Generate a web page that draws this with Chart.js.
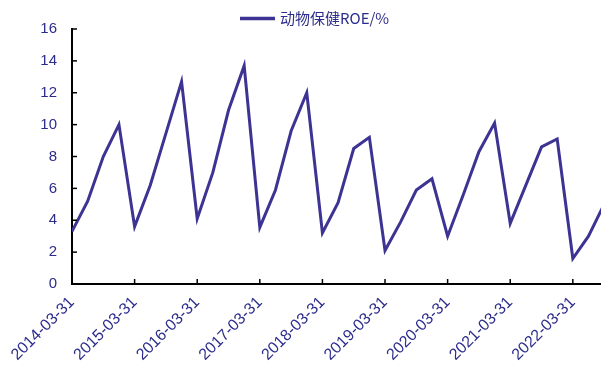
<!DOCTYPE html>
<html>
<head>
<meta charset="utf-8">
<script src="https://cdn.jsdelivr.net/npm/chart.js@4/dist/chart.umd.min.js"></script>
<style>
  html, body { margin: 0; padding: 0; background: #fff; overflow: hidden; }
  canvas { display: block; }
</style>
</head>
<body>
<canvas id="roeChart" width="601" height="367"></canvas>
<script>
// Quarterly reporting dates
const quarters = [
  '2014-03-31','2014-06-30','2014-09-30','2014-12-31',
  '2015-03-31','2015-06-30','2015-09-30','2015-12-31',
  '2016-03-31','2016-06-30','2016-09-30','2016-12-31',
  '2017-03-31','2017-06-30','2017-09-30','2017-12-31',
  '2018-03-31','2018-06-30','2018-09-30','2018-12-31',
  '2019-03-31','2019-06-30','2019-09-30','2019-12-31',
  '2020-03-31','2020-06-30','2020-09-30','2020-12-31',
  '2021-03-31','2021-06-30','2021-09-30','2021-12-31',
  '2022-03-31','2022-06-30','2022-09-30'
];

// Animal health sector ROE (%), cumulative within each year
const roe = [
  3.3, 5.2, 8.0, 10.0,
  3.6, 6.2, 9.45, 12.7,
  4.1, 7.0, 10.9, 13.7,
  3.55, 5.9, 9.6, 12.0,
  3.2, 5.1, 8.5, 9.2,
  2.1, 3.9, 5.9, 6.6,
  3.0, 5.6, 8.3, 10.1,
  3.8, 6.2, 8.6, 9.1,
  1.6, 3.0, 5.0
];

// Dates shown on the x axis
const tickLabels = [
  '2014-03-31','2015-03-31','2016-03-31','2017-03-31','2018-03-31',
  '2019-03-31','2020-03-31','2021-03-31','2022-03-31'
];

const seriesName = '动物保健ROE/%';
const lineColor = '#3d3393';
const textColor = '#2c2c8c';
const yFont = { family: "Arial, 'Liberation Sans', sans-serif", size: 15 };
const xFont = { family: "Arial, 'Liberation Sans', sans-serif", size: 16 };

// Short tick marks pointing into the plot, plus the legend line and caption
const axisDecor = {
  id: 'axisDecor',
  afterDraw(chart) {
    const { ctx, chartArea, scales: { x, y } } = chart;
    ctx.save();
    ctx.strokeStyle = '#000';
    ctx.lineWidth = 1.5;
    y.ticks.forEach(t => {
      const py = y.getPixelForValue(t.value);
      ctx.beginPath();
      ctx.moveTo(chartArea.left, py);
      ctx.lineTo(chartArea.left + 5, py);
      ctx.stroke();
    });
    x.ticks.forEach(t => {
      const px = x.getPixelForValue(t.value);
      ctx.beginPath();
      ctx.moveTo(px, chartArea.bottom);
      ctx.lineTo(px, chartArea.bottom - 5);
      ctx.stroke();
    });

    // legend
    const ly = 18.5;
    ctx.strokeStyle = lineColor;
    ctx.lineWidth = 3.5;
    ctx.beginPath();
    ctx.moveTo(240, ly);
    ctx.lineTo(275, ly);
    ctx.stroke();
    ctx.fillStyle = textColor;
    ctx.font = "15px 'Noto Sans CJK SC', sans-serif";
    ctx.textBaseline = 'middle';
    ctx.textAlign = 'left';
    ctx.fillText(seriesName, 280, ly);
    ctx.restore();
  }
};

new Chart(document.getElementById('roeChart'), {
  type: 'line',
  data: {
    datasets: [{
      label: seriesName,
      data: roe.map((v, i) => ({ x: i, y: v })),
      borderColor: lineColor,
      borderWidth: 3,
      pointRadius: 0,
      tension: 0,
      fill: false
    }]
  },
  options: {
    responsive: false,
    animation: false,
    devicePixelRatio: 1,
    layout: { padding: { top: 29, left: 0, right: 0, bottom: 0 } },
    plugins: {
      legend: { display: false },
      tooltip: { enabled: false }
    },
    scales: {
      x: {
        type: 'linear',
        min: 0,
        max: 33.8,
        afterBuildTicks(scale) {
          scale.ticks = tickLabels.map(l => ({ value: quarters.indexOf(l) }));
        },
        afterFit(scale) { scale.height = 83; },
        ticks: {
          autoSkip: false,
          maxRotation: 45,
          minRotation: 45,
          padding: 9,
          color: textColor,
          font: xFont,
          callback: v => quarters[v]
        },
        grid: { display: false, drawTicks: false },
        border: { display: true, color: '#000', width: 2 }
      },
      y: {
        min: 0,
        max: 16,
        afterFit(scale) { scale.width = 72; },
        ticks: {
          stepSize: 2,
          padding: 15,
          color: textColor,
          font: yFont
        },
        grid: { display: false, drawTicks: false },
        border: { display: true, color: '#000', width: 2 }
      }
    }
  },
  plugins: [axisDecor]
});
</script>
</body>
</html>
